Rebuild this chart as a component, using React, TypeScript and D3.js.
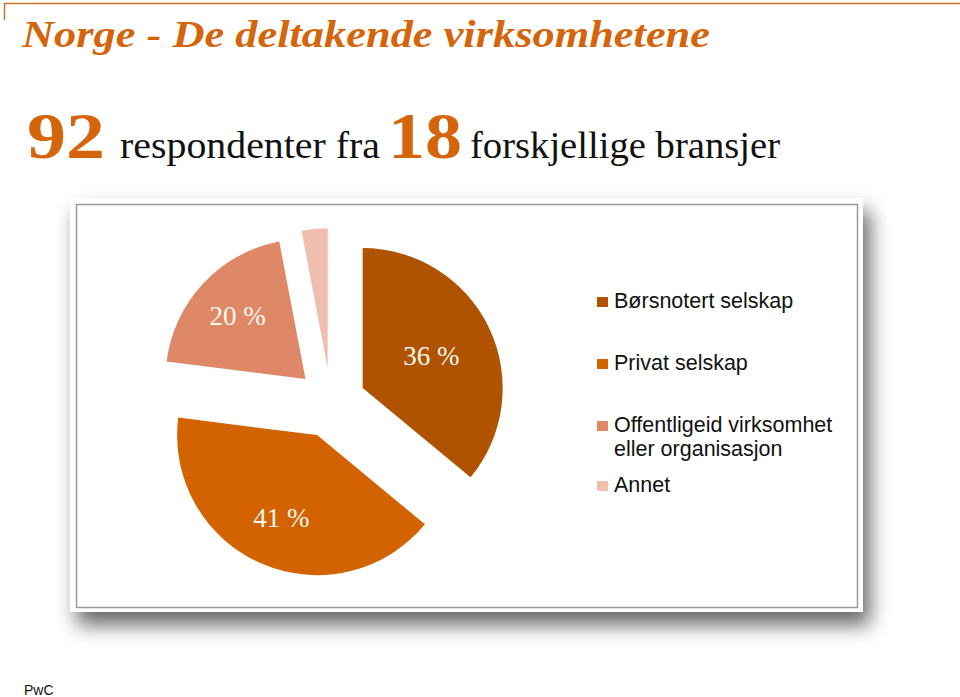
import React from "react";
import * as d3 from "d3";

const categories = ["Børsnotert selskap", "Privat selskap", "Offentligeid virksomhet eller organisasjon", "Annet"];
const legendLines = [["Børsnotert selskap"], ["Privat selskap"], ["Offentligeid virksomhet", "eller organisasjon"], ["Annet"]];
const values = [36, 41, 20, 3];
const sliceLabels = ["36 %", "41 %", "20 %", ""];
const colors = ["#B05300", "#D26300", "#DF8868", "#F0BEAE"];

const W = 960;
const H = 697;
const cx = 331;
const cy = 403;
const R = 140;
const explode = 35;

export default function App() {
  const pie = d3.pie<number>().sort(null).value((d) => d)(values);
  const arc = d3.arc<d3.PieArcDatum<number>>().innerRadius(0).outerRadius(R);
  const labelR = [76, 90, 93, 0];
  const legendY = [308, 370, 432, 492];
  const serif = "'Liberation Serif', 'DejaVu Serif', serif";
  const sans = "'Liberation Sans', Arial, sans-serif";
  return (
    <svg width={W} height={H} style={{ position: "absolute", left: 0, top: 0, background: "#fff" }}>
      <defs>
        <filter id="sh" x="-10%" y="-10%" width="125%" height="135%">
          <feDropShadow dx="7" dy="13" stdDeviation="10" floodColor="#000" floodOpacity="0.6" />
        </filter>
      </defs>
      <path d="M4.5,20 L4.5,3.5 L960,3.5" fill="none" stroke="#D2732A" strokeWidth={1.5} />
      <text x={22} y={47} fill="#D4650A" fontFamily={serif} fontStyle="italic" fontWeight="bold" fontSize={38}
        textLength={688} lengthAdjust="spacingAndGlyphs">Norge - De deltakende virksomhetene</text>
      <text x={27} y={158} fill="#D4650A" fontFamily={serif} fontWeight="bold" fontSize={66} textLength={78} lengthAdjust="spacingAndGlyphs">92</text>
      <text x={120} y={158} fill="#111" fontFamily={serif} fontSize={37} textLength={260} lengthAdjust="spacingAndGlyphs">respondenter fra</text>
      <text x={388} y={158} fill="#D4650A" fontFamily={serif} fontWeight="bold" fontSize={66} textLength={74} lengthAdjust="spacingAndGlyphs">18</text>
      <text x={470} y={158} fill="#111" fontFamily={serif} fontSize={37} textLength={310} lengthAdjust="spacingAndGlyphs">forskjellige bransjer</text>

      <rect x={70} y={198} width={793} height={414} fill="#fff" filter="url(#sh)" />
      <rect x={76.5} y={204.5} width={781} height={403} fill="#fff" stroke="#9a9a9a" strokeWidth={1.5} />

      <g>
        {pie.map((p, i) => {
          const mid = (p.startAngle + p.endAngle) / 2;
          const ox = cx + explode * Math.sin(mid);
          const oy = cy - explode * Math.cos(mid);
          const lr = labelR[i];
          return (
            <g key={i} transform={`translate(${ox},${oy})`}>
              <path d={arc(p) || ""} fill={colors[i]} />
              {sliceLabels[i] && (
                <text x={lr * Math.sin(mid)} y={lr * -Math.cos(mid)} dy="0.35em" textAnchor="middle"
                  fill="#FFF8EC" fontFamily={serif} fontSize={27}>{sliceLabels[i]}</text>
              )}
            </g>
          );
        })}
      </g>

      {categories.map((c, i) => (
        <g key={c}>
          <rect x={597} y={legendY[i] - 11} width={11} height={10} fill={colors[i]} />
          {legendLines[i].map((line, j) => (
            <text key={j} x={614} y={legendY[i] + j * 24} fontFamily={sans} fontSize={21.5} fill="#111">{line}</text>
          ))}
        </g>
      ))}

      <text x={24} y={695} fontFamily={sans} fontSize={14} fill="#111">PwC</text>
    </svg>
  );
}
